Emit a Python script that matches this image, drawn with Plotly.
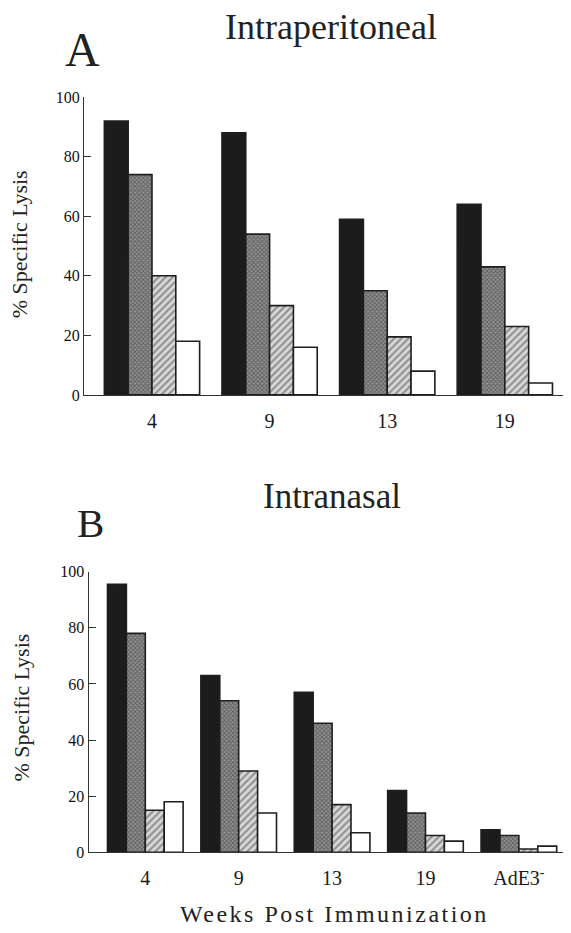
import plotly.graph_objects as go

# ---- data ----
weeks_a = ["4", "9", "13", "19"]
weeks_b = ["4", "9", "13", "19", "AdE3<sup>-</sup>"]

a_solid = [92, 88, 59, 64]
a_cross = [74, 54, 35, 43]
a_hatch = [40, 30, 19.5, 23]
a_open = [18, 16, 8, 4]

b_solid = [95.5, 63, 57, 22, 8]
b_cross = [78, 54, 46, 14, 6]
b_hatch = [15, 29, 17, 6, 1.2]
b_open = [18, 14, 7, 4, 2.2]

y_ticks = [0, 20, 40, 60, 80, 100]

OFF = 8  # default page body margin
W, H = 571 - OFF, 933 - OFF
FONT = "Liberation Serif, Times New Roman, serif"
LINE = dict(color="#1e1e1e", width=1.6)

styles = [
    dict(color="#1c1c1c", line=LINE),
    dict(color="#7a7a7a", line=LINE,
         pattern=dict(shape="x", fgcolor="#2a2a2a", bgcolor="#939393", size=3, solidity=0.5)),
    dict(color="#cfcfcf", line=LINE,
         pattern=dict(shape="/", fgcolor="#4a4a4a", bgcolor="#d8d8d8", size=5, solidity=0.42)),
    dict(color="white", line=LINE),
]

fig = go.Figure()
for vals, st in zip([a_solid, a_cross, a_hatch, a_open], styles):
    fig.add_trace(go.Bar(x=weeks_a, y=vals, marker=st, xaxis="x", yaxis="y", showlegend=False))
for vals, st in zip([b_solid, b_cross, b_hatch, b_open], styles):
    fig.add_trace(go.Bar(x=weeks_b, y=vals, marker=st, xaxis="x2", yaxis="y2", showlegend=False))


def px_x(p):
    return (p - OFF) / W


def px_y(p):
    return 1 - (p - OFF) / H


yax = dict(range=[0, 100], tickvals=y_ticks, ticks="inside", ticklen=7, tickwidth=1.3,
           tickcolor="#333", showline=True, linecolor="#333", linewidth=1.3,
           showgrid=False, zeroline=False,
           tickfont=dict(family=FONT, size=16, color="#111"), fixedrange=True)
xax = dict(type="category", showline=True, linecolor="#333", linewidth=1.3,
           ticks="outside", ticklen=8, tickcolor="rgba(0,0,0,0)", showgrid=False,
           tickfont=dict(family=FONT, size=20, color="#1a1a1a"), fixedrange=True)

fig.update_layout(
    width=W, height=H,
    margin=dict(l=0, r=0, t=0, b=0),
    paper_bgcolor="white", plot_bgcolor="white",
    barmode="group", bargap=0.19, bargroupgap=0,
    showlegend=False,
    xaxis=dict(xax, domain=[px_x(84), px_x(568)], range=[-0.578, 3.537], anchor="y"),
    yaxis=dict(yax, domain=[px_y(394), px_y(90.7)], anchor="x"),
    xaxis2=dict(xax, domain=[px_x(88.7), px_x(568)], range=[-0.606, 4.526], anchor="y2"),
    yaxis2=dict(yax, domain=[px_y(860), px_y(574)], anchor="x2"),
)

ann = []


def add_text(text, x, y, size, angle=0):
    ann.append(dict(text=text, x=px_x(x), y=px_y(y), xref="paper", yref="paper",
                    xanchor="center", yanchor="middle", showarrow=False, textangle=angle,
                    font=dict(family=FONT, size=size, color="#222")))


add_text("Intraperitoneal", 331, 19, 36)
add_text("A", 82, 42, 48)
add_text("Intranasal", 332, 497, 35)
add_text("B", 90, 525, 41)
add_text("% Specific Lysis", 19, 240.5, 22, -90)
add_text("% Specific Lysis", 22, 712.5, 22, -90)
add_text('<span style="letter-spacing:2.5px">Weeks Post Immunization</span>', 334, 923, 24)
fig.update_layout(annotations=ann)

fig.write_html("out.html")
